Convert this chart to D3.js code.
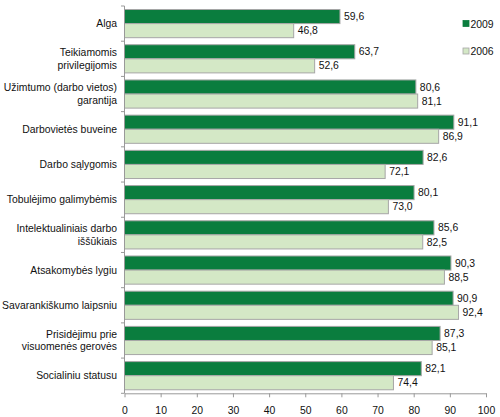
<!DOCTYPE html>
<html><head><meta charset="utf-8">
<script src="https://cdn.jsdelivr.net/npm/d3@7"></script>
<style>body{margin:0;background:#fff}svg{display:block;font-family:"Liberation Sans",Arial,sans-serif}</style>
</head><body><svg id="c" width="500" height="417"></svg>
<script>
const categories = [
  ["Alga"],
  ["Teikiamomis","privilegijomis"],
  ["Užimtumo (darbo vietos)","garantija"],
  ["Darbovietės buveine"],
  ["Darbo sąlygomis"],
  ["Tobulėjimo galimybėmis"],
  ["Intelektualiniais darbo","iššūkiais"],
  ["Atsakomybės lygiu"],
  ["Savarankiškumo laipsniu"],
  ["Prisidėjimu prie","visuomenės gerovės"],
  ["Socialiniu statusu"]
];
const series2009 = [59.6,63.7,80.6,91.1,82.6,80.1,85.6,90.3,90.9,87.3,82.1];
const series2006 = [46.8,52.6,81.1,86.9,72.1,73.0,82.5,88.5,92.4,85.1,74.4];
const seriesNames = ["2009","2006"];
const xTicks = [0,10,20,30,40,50,60,70,80,90,100];

(function(){
const svg = d3.select("#c");
const pL = 124.5, pR = 486, pT = 6, pB = 393.3;
const FS = 10.4;
const x = d3.scaleLinear().domain([0,100]).range([pL,pR]);
const y = d3.scaleBand().domain(d3.range(categories.length)).range([pT,pB]).paddingInner(0).paddingOuter(0);
const colors = ["#0a7d3e","#d4e8c6"];
const bw = y.bandwidth();
const barH = bw*0.4;
const fmt = v => v.toFixed(1).replace(".", ",");

const data = [series2009, series2006];
data.forEach((s,si)=>{
  const g = svg.append("g");
  g.selectAll("rect").data(s).enter().append("rect")
    .attr("x", x(0))
    .attr("y", (d,i)=> y(i) + bw*0.1 + si*barH)
    .attr("width", d=> x(d)-x(0))
    .attr("height", barH)
    .attr("fill", colors[si])
    .attr("stroke", "#a6a6a6")
    .attr("stroke-width", 1);
  g.selectAll("text").data(s).enter().append("text")
    .attr("x", d=> x(d)+4)
    .attr("y", (d,i)=> y(i) + bw*0.1 + si*barH + barH/2)
    .attr("dy","0.35em")
    .attr("font-size", FS)
    .attr("fill", "#111")
    .text(fmt);
});

svg.append("line").attr("x1",pL).attr("x2",pL).attr("y1",pT).attr("y2",pB).attr("stroke","#999");
const bounds = d3.range(categories.length+1).map(i=> pT + i*bw);
svg.selectAll(".lt").data(bounds).enter().append("line")
  .attr("x1",pL-3.5).attr("x2",pL).attr("y1",d=>d).attr("y2",d=>d).attr("stroke","#999");

categories.forEach((lines,i)=>{
  const cy = y(i) + bw/2;
  const lh = 12.5;
  const t = svg.append("text").attr("text-anchor","end").attr("font-size",FS).attr("fill","#111");
  lines.forEach((ln,j)=>{
    t.append("tspan").attr("x",117)
      .attr("y", cy + (j - (lines.length-1)/2)*lh)
      .attr("dy","0.35em").text(ln);
  });
});

const xAxis = d3.axisBottom(x).tickValues(xTicks).tickSize(4).tickSizeOuter(0).tickFormat(d3.format("d"));
const ax = svg.append("g").attr("transform",`translate(0,${pB})`).call(xAxis);
ax.select(".domain").attr("stroke","#999");
ax.selectAll(".tick line").attr("stroke","#999");
ax.selectAll(".tick text").attr("font-size",FS).attr("fill","#111").attr("font-family","Liberation Sans, Arial, sans-serif").attr("dy","1.3em");

seriesNames.forEach((n,i)=>{
  const ly = 24 + i*27.5;
  svg.append("rect").attr("x",463).attr("y",ly-3.5).attr("width",6).attr("height",6)
    .attr("fill",colors[i]).attr("stroke", i===0 ? colors[0] : "#a6a6a6").attr("stroke-width",0.8);
  svg.append("text").attr("x",470.5).attr("y",ly).attr("dy","0.35em").attr("font-size",FS).attr("fill","#111").text(n);
});
})();
</script></body></html>
